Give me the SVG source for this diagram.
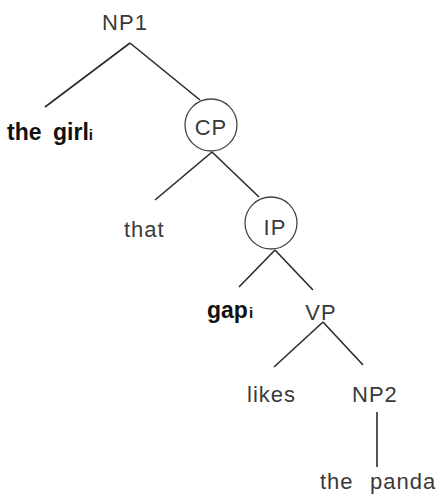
<svg xmlns="http://www.w3.org/2000/svg" width="443" height="496" viewBox="0 0 443 496">
<style>
.t{font-family:"Liberation Sans",Arial,sans-serif;font-size:22px;fill:#3a3a3a;letter-spacing:1px}
.b{font-family:"Liberation Sans",Arial,sans-serif;font-size:23px;font-weight:bold;fill:#111}
.s{font-size:15px}
.c{fill:none;stroke:#444;stroke-width:1.3}
.e line{stroke:#2a2a2a;stroke-width:1.6}
</style>
<rect width="443" height="496" fill="#fff"/>
<g class="e" id="connectors">
<line x1="130" y1="43" x2="45" y2="107"/>
<line x1="130" y1="43" x2="200" y2="100"/>
<line x1="212" y1="152" x2="155" y2="200"/>
<line x1="212" y1="152" x2="259" y2="197"/>
<line x1="275" y1="250" x2="239" y2="287"/>
<line x1="275" y1="250" x2="313" y2="290"/>
<line x1="323" y1="322" x2="274" y2="367"/>
<line x1="323" y1="322" x2="363" y2="365"/>
<line x1="377" y1="412" x2="377" y2="467"/>
</g>
<g id="np1"><text class="t" x="125" y="30" text-anchor="middle">NP1</text></g>
<g id="the-girl"><text class="b" x="7" y="140">the<tspan x="53">girl</tspan><tspan class="s">i</tspan></text></g>
<g id="cp"><circle class="c" cx="211" cy="125" r="26"/><text class="t" x="211" y="135" text-anchor="middle">CP</text></g>
<g id="that"><text class="t" x="124" y="237">that</text></g>
<g id="ip"><circle class="c" cx="271" cy="223" r="26"/><text class="t" x="275" y="235" text-anchor="middle">IP</text></g>
<g id="gap"><text class="b" x="207" y="318">gap<tspan class="s" dx="1">i</tspan></text></g>
<g id="vp"><text class="t" x="321" y="320" text-anchor="middle">VP</text></g>
<g id="likes"><text class="t" x="247" y="402">likes</text></g>
<g id="np2"><text class="t" x="352" y="402">NP2</text></g>
<g id="the-panda"><text class="t" x="320" y="489">the<tspan x="370">panda</tspan></text></g>
</svg>
